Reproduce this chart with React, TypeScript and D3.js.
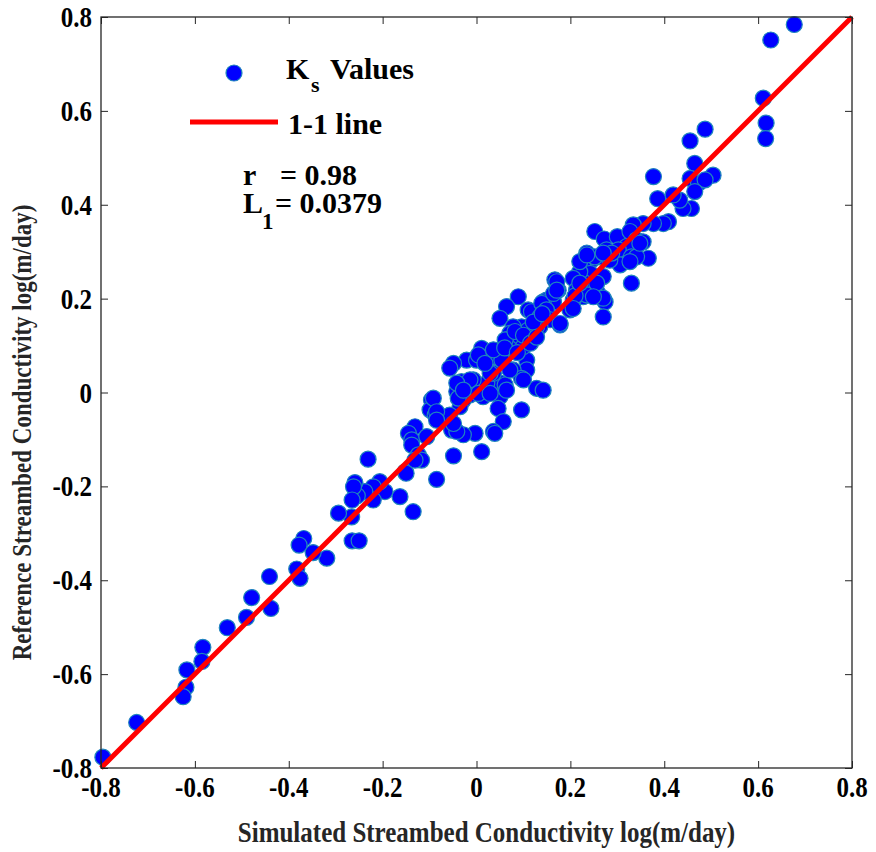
import React, { useEffect, useRef } from 'react';
import * as d3 from 'd3';

// simulated (x) vs reference (y) log conductivity
const simulated = [
  0.677, 0.627, 0.611, 0.617, 0.616, 0.487, 0.504, 0.465, 0.455, 0.377,
  0.455, 0.473, 0.487, 0.465, 0.458, 0.440, 0.433, 0.419, 0.386, 0.409,
  0.398, 0.377, 0.355, 0.334, 0.366, 0.330, 0.252, 0.272, 0.300, 0.327,
  0.341, 0.355, 0.320, 0.302, 0.330, 0.306, 0.277, 0.263, 0.284, 0.235,
  0.245, 0.227, 0.242, 0.270, 0.231, 0.227, 0.259, 0.274, 0.270, 0.288,
  0.341, 0.327, 0.252, 0.220, 0.206, 0.167, 0.213, 0.174, 0.235, 0.149,
  0.164, 0.206, 0.220, 0.235, 0.256, 0.270, 0.171, 0.142, 0.178, 0.199,
  0.210, 0.089, 0.064, 0.050, 0.110, 0.117, 0.139, 0.149, 0.135, 0.157,
  0.135, 0.114, 0.096, 0.078, 0.117, 0.110, 0.071, 0.078, 0.064, 0.093,
  0.089, 0.043, 0.057, 0.107, 0.107, 0.078, 0.096, 0.128, 0.142, 0.100,
  0.050, 0.022, -0.007, 0.036, 0.061, 0.014, -0.021, 0.000, 0.011, -0.049,
  -0.057, 0.004, -0.032, -0.042, -0.014, -0.028, 0.014, -0.096, -0.099, -0.088,
  -0.035, 0.050, 0.046, 0.057, 0.096, 0.036, -0.003, -0.028, -0.053, -0.057,
  0.054, 0.029, 0.071, 0.078, 0.093, 0.061, 0.100, 0.036, 0.018, -0.014,
  0.004, 0.029, 0.064, 0.128, 0.164, 0.206, 0.249, 0.011, -0.049, -0.085,
  -0.152, 0.039, -0.042, -0.049, -0.092, -0.085, -0.042, -0.039, -0.028, -0.131,
  -0.145, -0.138, -0.138, -0.124, -0.117, -0.131, -0.106, -0.085, -0.150, -0.135,
  -0.163, -0.231, -0.195, -0.206, -0.220, -0.220, -0.238, -0.254, -0.259, -0.262,
  -0.265, -0.266, -0.294, -0.265, -0.250, -0.319, -0.348, -0.368, -0.378, -0.383,
  -0.376, -0.441, -0.438, -0.479, -0.490, -0.531, -0.583, -0.585, -0.617, -0.619,
  -0.625, -0.724, -0.796, 0.171, 0.220, 0.178, 0.270, 0.348,
  0.082, 0.100, 0.121, 0.140, 0.060, 0.087, 0.115, 0.128,
];
const reference = [
  0.784, 0.751, 0.627, 0.574, 0.541, 0.561, 0.463, 0.488, 0.536, 0.460,
  0.456, 0.446, 0.453, 0.428, 0.392, 0.392, 0.410, 0.421, 0.413, 0.364,
  0.360, 0.360, 0.360, 0.357, 0.286, 0.233, 0.343, 0.327, 0.332, 0.343,
  0.325, 0.321, 0.311, 0.304, 0.289, 0.272, 0.304, 0.289, 0.282, 0.297,
  0.282, 0.268, 0.254, 0.247, 0.233, 0.204, 0.211, 0.193, 0.161, 0.297,
  0.289, 0.279, 0.289, 0.257, 0.243, 0.240, 0.218, 0.218, 0.208, 0.197,
  0.193, 0.197, 0.279, 0.293, 0.233, 0.201, 0.236, 0.193, 0.144, 0.176,
  0.206, 0.204, 0.183, 0.158, 0.176, 0.172, 0.190, 0.176, 0.161, 0.155,
  0.140, 0.126, 0.140, 0.140, 0.119, 0.133, 0.126, 0.119, 0.112, 0.098,
  0.112, 0.076, 0.069, 0.069, 0.048, 0.048, 0.030, 0.009, 0.005, 0.027,
  0.020, 0.020, 0.027, 0.041, 0.016, 0.091, 0.069, 0.069, 0.094, 0.062,
  0.052, 0.080, 0.023, 0.002, -0.005, -0.016, -0.009, -0.016, -0.037, -0.048,
  -0.030, -0.009, -0.034, -0.062, -0.037, -0.083, -0.087, -0.090, -0.080, -0.048,
  0.069, 0.041, 0.048, 0.098, 0.119, 0.112, 0.098, 0.091, 0.062, 0.027,
  -0.002, -0.002, 0.005, 0.140, 0.211, 0.179, 0.204, -0.126, -0.135, -0.185,
  -0.169, -0.087, -0.083, -0.066, -0.012, -0.041, 0.020, -0.012, 0.005, -0.073,
  -0.087, -0.101, -0.112, -0.133, -0.144, -0.144, -0.094, -0.059, -0.172, -0.254,
  -0.222, -0.142, -0.211, -0.190, -0.201, -0.229, -0.211, -0.220, -0.192, -0.201,
  -0.229, -0.265, -0.257, -0.316, -0.316, -0.353, -0.341, -0.311, -0.325, -0.376,
  -0.396, -0.392, -0.460, -0.437, -0.479, -0.501, -0.543, -0.573, -0.591, -0.628,
  -0.648, -0.703, -0.777, 0.218, 0.233, 0.147, 0.297, 0.318,
  0.130, 0.122, 0.150, 0.168, 0.095, 0.085, 0.105, 0.118,
];
const tickValues = [-0.8, -0.6, -0.4, -0.2, 0, 0.2, 0.4, 0.6, 0.8];
const tickLabels = ['-0.8', '-0.6', '-0.4', '-0.2', '0', '0.2', '0.4', '0.6', '0.8'];
const oneToOne = [-0.8, 0.8];

const FONT = "'Liberation Serif', 'Times New Roman', serif";
const STRETCH = 1.2; // text in the original is drawn taller than normal

function ScatterChart() {
  const ref = useRef<SVGSVGElement | null>(null);

  useEffect(() => {
    if (!ref.current) return;
    const left = 101, right = 852, top = 17, bottom = 768;
    const svg = d3.select(ref.current);
    svg.selectAll('*').remove();

    const x = d3.scaleLinear().domain([-0.8, 0.8]).range([left, right]);
    const y = d3.scaleLinear().domain([-0.8, 0.8]).range([bottom, top]);

    // points
    svg.append('g')
      .selectAll('circle')
      .data(simulated.map((s, i) => [s, reference[i]]))
      .join('circle')
        .attr('cx', d => x(d[0]))
        .attr('cy', d => y(d[1]))
        .attr('r', 8)
        .attr('fill', '#0000ff')
        .attr('stroke', '#1f86bd')
        .attr('stroke-width', 1.2);

    // 1-1 line
    svg.append('path')
      .datum(oneToOne.map(v => [v, v] as [number, number]))
      .attr('d', d3.line<[number, number]>().x(d => x(d[0])).y(d => y(d[1])))
      .attr('stroke', '#ff0000')
      .attr('stroke-width', 5)
      .attr('fill', 'none');

    // box + inward ticks on all four sides (labels drawn separately below)
    const tickOnly = (g: any) => {
      g.select('.domain').remove();
      g.selectAll('line').attr('stroke', '#262626');
      g.selectAll('text').remove();
    };
    svg.append('g').attr('transform', `translate(0,${bottom})`)
      .call(d3.axisBottom(x).tickValues(tickValues).tickSizeInner(-7)).call(tickOnly);
    svg.append('g').attr('transform', `translate(0,${top})`)
      .call(d3.axisTop(x).tickValues(tickValues).tickSizeInner(-7)).call(tickOnly);
    svg.append('g').attr('transform', `translate(${left},0)`)
      .call(d3.axisLeft(y).tickValues(tickValues).tickSizeInner(-7)).call(tickOnly);
    svg.append('g').attr('transform', `translate(${right},0)`)
      .call(d3.axisRight(y).tickValues(tickValues).tickSizeInner(-7)).call(tickOnly);
    svg.append('rect')
      .attr('x', left).attr('y', top)
      .attr('width', right - left).attr('height', bottom - top)
      .attr('fill', 'none').attr('stroke', '#262626').attr('stroke-width', 1.3);

    const lbl = svg.append('g').attr('font-family', FONT).attr('font-weight', 'bold')
      .attr('font-size', 25).attr('fill', '#000');
    lbl.selectAll('text.xt')
      .data(tickValues)
      .join('text')
        .attr('class', 'xt')
        .attr('text-anchor', 'middle')
        .attr('transform', d => `translate(${x(d)},797) scale(1,${STRETCH})`)
        .text((d, i) => tickLabels[i]);
    lbl.selectAll('text.yt')
      .data(tickValues)
      .join('text')
        .attr('class', 'yt')
        .attr('text-anchor', 'end')
        .attr('transform', d => `translate(92,${y(d) + 10}) scale(1,${STRETCH})`)
        .text((d, i) => tickLabels[i]);

    // axis titles
    svg.append('text')
      .attr('transform', `translate(${(left + right) / 2 + 10},842) scale(1,${STRETCH})`)
      .attr('text-anchor', 'middle')
      .attr('font-family', FONT).attr('font-weight', 'bold').attr('font-size', 25)
      .attr('fill', '#262626')
      .text('Simulated Streambed Conductivity log(m/day)');
    svg.append('text')
      .attr('transform', `translate(31,${(top + bottom) / 2 + 40}) rotate(-90) scale(1,${STRETCH})`)
      .attr('text-anchor', 'middle')
      .attr('font-family', FONT).attr('font-weight', 'bold').attr('font-size', 23)
      .attr('fill', '#262626')
      .text('Reference Streambed Conductivity log(m/day)');

    // legend
    const lg = svg.append('g').attr('font-family', FONT).attr('font-weight', 'bold').attr('fill', '#000');
    lg.append('circle').attr('cx', 234).attr('cy', 73).attr('r', 8)
      .attr('fill', '#0000ff').attr('stroke', '#1f86bd').attr('stroke-width', 1.2);
    const k = lg.append('text').attr('y', 79).attr('font-size', 30);
    k.append('tspan').attr('x', 286).text('K');
    k.append('tspan').attr('x', 311).attr('font-size', 22).attr('dy', 13).text('s');
    k.append('tspan').attr('x', 330).attr('dy', -13).text('Values');
    lg.append('line').attr('x1', 190).attr('x2', 278).attr('y1', 122).attr('y2', 122)
      .attr('stroke', '#ff0000').attr('stroke-width', 5);
    lg.append('text').attr('x', 288).attr('y', 134).attr('font-size', 30).text('1-1 line');
    const r = lg.append('text').attr('y', 185).attr('font-size', 30);
    r.append('tspan').attr('x', 243).text('r');
    r.append('tspan').attr('x', 280).text('= 0.98');
    const l1 = lg.append('text').attr('y', 213).attr('font-size', 30);
    l1.append('tspan').attr('x', 243).text('L');
    l1.append('tspan').attr('x', 262).attr('font-size', 23).attr('dy', 16).text('1');
    l1.append('tspan').attr('x', 275).attr('dy', -16).text('= 0.0379');
  }, []);

  return <svg ref={ref} width={876} height={852} style={{ position: 'absolute', left: 0, top: 0, background: '#fff' }} />;
}

export default function App() {
  return <ScatterChart />;
}
